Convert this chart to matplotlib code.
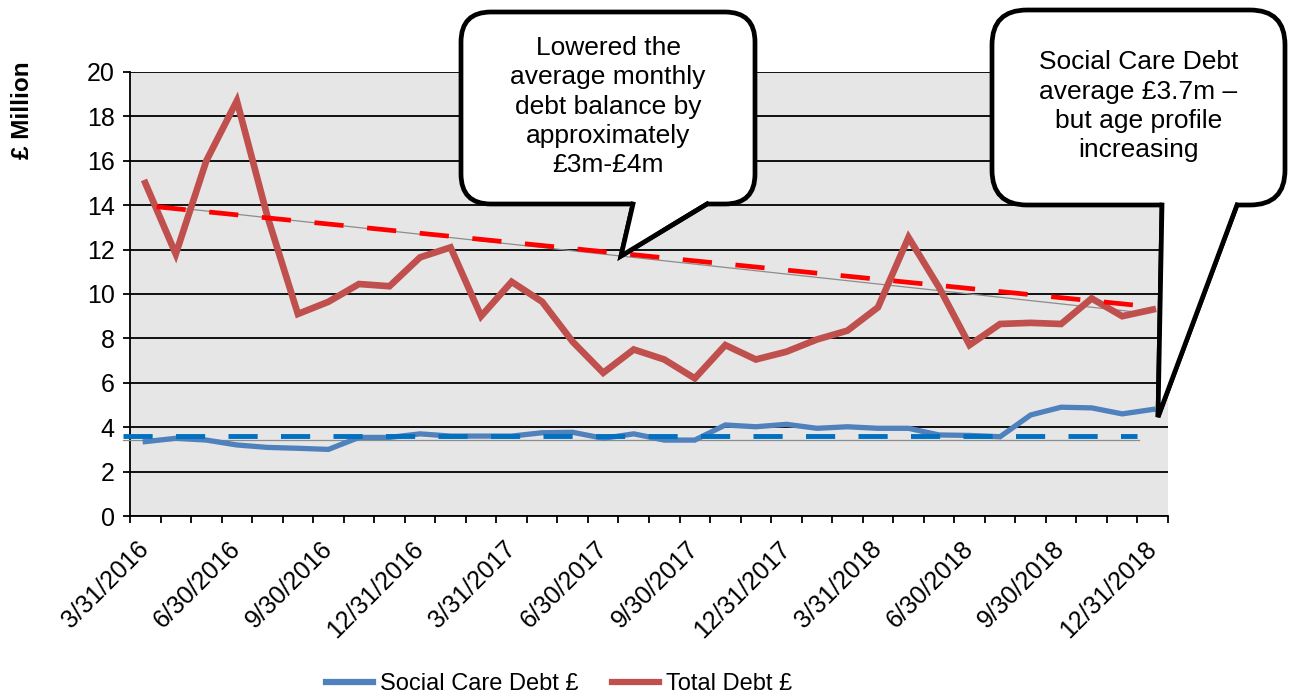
import numpy as np
import pandas as pd
import matplotlib
matplotlib.use("Agg")
import matplotlib.pyplot as plt
from matplotlib.patches import PathPatch, Polygon
from matplotlib.path import Path
from matplotlib.lines import Line2D
from matplotlib.transforms import IdentityTransform

plt.rcParams['font.family'] = ['Liberation Sans', 'DejaVu Sans']

# month-end categories, 3/31/2016 .. 12/31/2018
dates = pd.date_range("2016-03-31", periods=34, freq="ME")
date_labels = ["{}/{}/{}".format(d.month, d.day, d.year) for d in dates]

total_debt = [15.0, 11.8, 16.0, 18.7, 13.5, 9.1, 9.65, 10.45, 10.35, 11.65,
              12.1, 9.0, 10.55, 9.65, 7.85, 6.45, 7.5, 7.05, 6.2, 7.7,
              7.05, 7.4, 7.95, 8.35, 9.4, 12.55, 10.3, 7.7, 8.65, 8.7,
              8.65, 9.8, 9.0, 9.3]
social_care = [3.35, 3.5, 3.42, 3.2, 3.09, 3.05, 3.0, 3.54, 3.54, 3.7,
               3.6, 3.6, 3.6, 3.75, 3.77, 3.5, 3.7, 3.42, 3.42, 4.1,
               4.02, 4.13, 3.95, 4.02, 3.95, 3.95, 3.65, 3.63, 3.57, 4.55,
               4.9, 4.87, 4.6, 4.8]

# trend / annotation lines (category index, value)
red_trend_x = [0.25, 32.7]
red_trend_y = [14.0, 9.15]
red_dash_x = [0.37, 32.7]
red_dash_y = [13.93, 9.46]
blue_trend_x = [-0.73, 32.55]
blue_trend_y = [3.42, 3.42]
blue_dash_x = [-0.73, 32.5]
blue_dash_y = [3.6, 3.6]

callout1_text = "Lowered the\naverage monthly\ndebt balance by\napproximately\n£3m-£4m"
callout2_text = "Social Care Debt\naverage £3.7m –\nbut age profile\nincreasing"

W, H = 1290, 698
fig = plt.figure(figsize=(W / 100, H / 100), dpi=100)
ax = fig.add_axes([130 / W, 1 - 516 / H, (1168 - 130) / W, (516 - 72) / H])
ax.set_facecolor('#e6e6e6')

x = np.arange(len(dates))
ax.plot(blue_trend_x, blue_trend_y, color='#8c8c8c', lw=0.9, zorder=3, clip_on=False)
ax.plot(red_trend_x, red_trend_y, color='#8c8c8c', lw=0.9, zorder=3)
ax.plot(x, social_care, color='#4f81bd', lw=3.8, zorder=4, solid_joinstyle='miter')
ax.plot(x, total_debt, color='#c0504d', lw=4.8, zorder=4, solid_joinstyle='miter')
ax.plot(blue_dash_x, blue_dash_y, color='#0070c0', lw=3.5, zorder=5,
        linestyle=(0, (6.0, 4.8)), clip_on=False)
ax.plot(red_dash_x, red_dash_y, color='#ff0000', lw=3.4, zorder=5,
        linestyle=(0, (6.2, 5.0)))

ax.set_xlim(-0.5, 33.5)
ax.set_ylim(0, 20)
ax.set_yticks(np.arange(0, 21, 2))
ax.set_xticks(x[::3])
ax.set_xticklabels(date_labels[::3], rotation=45, ha='right', va='center',
                   rotation_mode='anchor', fontsize=18)
ax.set_xticks(np.arange(-0.5, 34, 1), minor=True)
ax.tick_params(axis='x', which='major', length=0, pad=21)
ax.tick_params(axis='x', which='minor', length=5, width=1.3, direction='out')
ax.tick_params(axis='y', length=5, width=1.3, direction='out', labelsize=18, pad=6)

ax.yaxis.grid(True, color='black', lw=1.3)
ax.set_axisbelow(True)
for s in ['top', 'right']:
    ax.spines[s].set_visible(False)
for s in ['left', 'bottom']:
    ax.spines[s].set_color('black')
    ax.spines[s].set_linewidth(1.3)

fig.text(23 / W, 1 - 110 / H, "£ Million", rotation=90, ha='center', va='center',
         fontsize=17.5, fontweight='bold')

# legend
handles = [Line2D([], [], color='#4f81bd', lw=4.5),
           Line2D([], [], color='#c0504d', lw=4.5)]
fig.legend(handles, ["Social Care Debt £", "Total Debt £"], loc='center',
           bbox_to_anchor=(559 / W, 1 - 684 / H), ncol=2, frameon=False,
           fontsize=17, handlelength=2.0, handletextpad=0.3, columnspacing=1.4)


def callout(box, rad, xl, xr, tip, text):
    # box = (left, top, right, bottom) in pixels from the top-left corner
    l, t, r, b = box
    top, bot = H - t, H - b
    tx, ty = tip[0], H - tip[1]
    tr = IdentityTransform()
    verts = [(l + rad, top), (r - rad, top),
             (r, top), (r, top - rad),
             (r, bot + rad),
             (r, bot), (r - rad, bot),
             (xr, bot), (tx, ty), (xl, bot),
             (l + rad, bot),
             (l, bot), (l, bot + rad),
             (l, top - rad),
             (l, top), (l + rad, top),
             (l + rad, top)]
    codes = [Path.MOVETO, Path.LINETO,
             Path.CURVE3, Path.CURVE3,
             Path.LINETO,
             Path.CURVE3, Path.CURVE3,
             Path.LINETO, Path.LINETO, Path.LINETO,
             Path.LINETO,
             Path.CURVE3, Path.CURVE3,
             Path.LINETO,
             Path.CURVE3, Path.CURVE3,
             Path.CLOSEPOLY]
    fig.add_artist(PathPatch(Path(verts, codes), facecolor='white',
                             edgecolor='black', lw=3.4, joinstyle='miter',
                             transform=tr, zorder=10))
    # white cover over the tail base, then the tail sides again on top
    fig.add_artist(Polygon([(xl, bot + 6), (xr, bot + 6), (tx, ty)], closed=True,
                           facecolor='white', edgecolor='none', transform=tr,
                           zorder=11))
    fig.add_artist(Line2D([xl, tx, xr], [bot, ty, bot], color='black', lw=3.4,
                          transform=tr, zorder=12, solid_joinstyle='miter',
                          solid_capstyle='projecting'))
    fig.text((l + r) / 2 / W, 1 - (t + b) / 2 / H + 0.002, text, ha='center',
             va='center', fontsize=19, linespacing=1.27, zorder=13)


callout((461, 12, 755, 204), 30, 633, 707, (621, 256), callout1_text)
callout((992, 10, 1285, 205), 35, 1162, 1237, (1158, 417), callout2_text)

fig.savefig("out.png", dpi=100)
